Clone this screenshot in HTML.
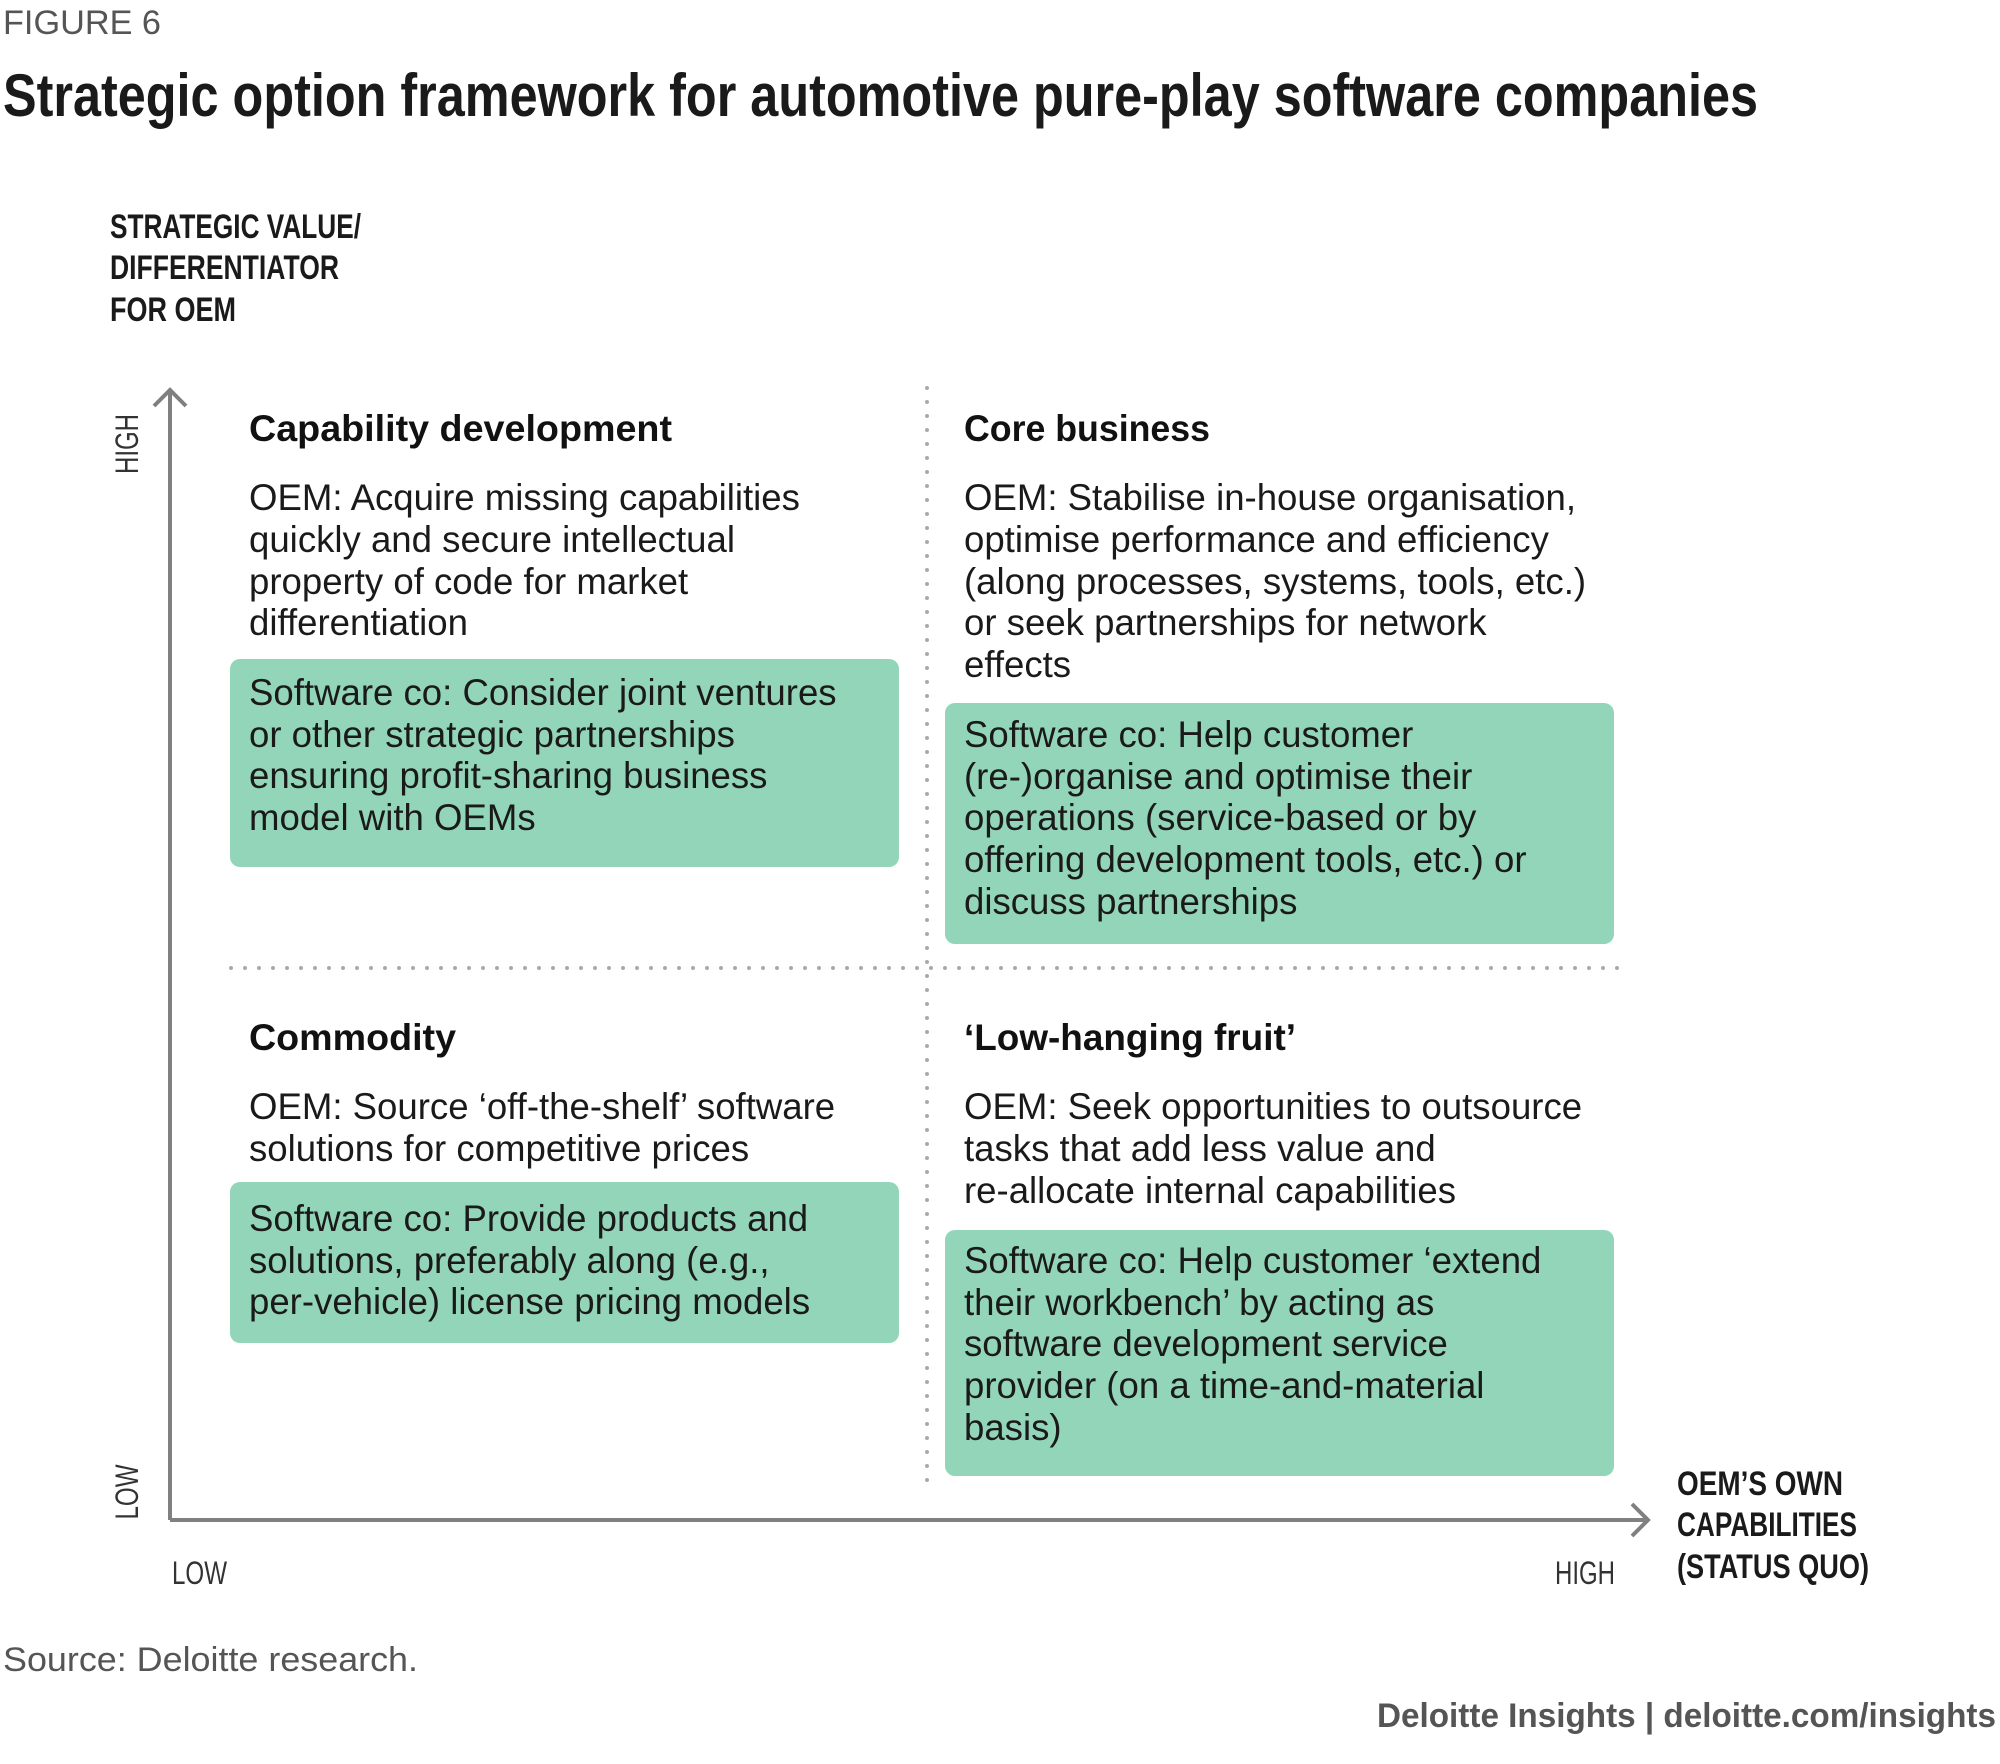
<!DOCTYPE html>
<html><head><meta charset="utf-8"><style>
html,body{margin:0;padding:0;background:#fff}
svg{display:block}
.b{font-family:"Liberation Sans",sans-serif;font-size:36.6px;fill:#1a1a1a}
.h{font-family:"Liberation Sans",sans-serif;font-size:37px;font-weight:bold;fill:#111}
.ax{font-family:"Liberation Sans",sans-serif;font-size:34px;font-weight:bold;fill:#1a1a1a}
.lo{font-family:"Liberation Sans",sans-serif;font-size:32px;fill:#333}
</style></head><body>
<svg width="2000" height="1764" viewBox="0 0 2000 1764" xmlns="http://www.w3.org/2000/svg">
<text x="3" y="34" font-family="Liberation Sans, sans-serif" font-size="34" fill="#555" textLength="158" lengthAdjust="spacingAndGlyphs">FIGURE 6</text>
<text x="3" y="116" font-family="Liberation Sans, sans-serif" font-size="60" font-weight="bold" fill="#1a1a1a" textLength="1755" lengthAdjust="spacingAndGlyphs">Strategic option framework for automotive pure-play software companies</text>

<text class="ax" x="110" y="238" textLength="251" lengthAdjust="spacingAndGlyphs">STRATEGIC VALUE/</text>
<text class="ax" x="110" y="279" textLength="229" lengthAdjust="spacingAndGlyphs">DIFFERENTIATOR</text>
<text class="ax" x="110" y="321" textLength="126" lengthAdjust="spacingAndGlyphs">FOR OEM</text>

<line x1="927" y1="388" x2="927" y2="1490" stroke="#aaa" stroke-width="4" stroke-linecap="round" stroke-dasharray="0 14"/>
<line x1="231" y1="968" x2="1626" y2="968" stroke="#aaa" stroke-width="4" stroke-linecap="round" stroke-dasharray="0 14"/>

<g stroke="#808080" stroke-width="4" fill="none">
<line x1="170" y1="390" x2="170" y2="1520"/>
<polyline points="154,406 170,390 186,406"/>
<line x1="170" y1="1520" x2="1646" y2="1520"/>
<polyline points="1632,1504 1648,1520 1632,1536"/>
</g>
<text class="lo" transform="translate(138,444) rotate(-90)" text-anchor="middle" textLength="60" lengthAdjust="spacingAndGlyphs">HIGH</text>
<text class="lo" transform="translate(138,1492) rotate(-90)" text-anchor="middle" textLength="55" lengthAdjust="spacingAndGlyphs">LOW</text>
<text class="lo" x="172" y="1584" textLength="55" lengthAdjust="spacingAndGlyphs">LOW</text>
<text class="lo" x="1555" y="1584" textLength="60" lengthAdjust="spacingAndGlyphs">HIGH</text>
<text class="ax" x="1677" y="1495" textLength="166" lengthAdjust="spacingAndGlyphs">OEM’S OWN</text>
<text class="ax" x="1677" y="1536" textLength="180" lengthAdjust="spacingAndGlyphs">CAPABILITIES</text>
<text class="ax" x="1677" y="1578" textLength="192" lengthAdjust="spacingAndGlyphs">(STATUS QUO)</text>

<g fill="#93d5b8">
<rect x="230" y="659" width="669" height="208" rx="10"/>
<rect x="945" y="703" width="669" height="241" rx="10"/>
<rect x="230" y="1182" width="669" height="161" rx="10"/>
<rect x="945" y="1230" width="669" height="246" rx="10"/>
</g>

<text class="h" x="249" y="441" textLength="423" lengthAdjust="spacingAndGlyphs">Capability development</text>
<text class="b" x="249" y="510">OEM: Acquire missing capabilities</text>
<text class="b" x="249" y="552">quickly and secure intellectual</text>
<text class="b" x="249" y="594">property of code for market</text>
<text class="b" x="249" y="635">differentiation</text>
<text class="b" x="249" y="705">Software co: Consider joint ventures</text>
<text class="b" x="249" y="747">or other strategic partnerships</text>
<text class="b" x="249" y="788">ensuring profit-sharing business</text>
<text class="b" x="249" y="830">model with OEMs</text>

<text class="h" x="964" y="441" textLength="246" lengthAdjust="spacingAndGlyphs">Core business</text>
<text class="b" x="964" y="510">OEM: Stabilise in-house organisation,</text>
<text class="b" x="964" y="552">optimise performance and efficiency</text>
<text class="b" x="964" y="594">(along processes, systems, tools, etc.)</text>
<text class="b" x="964" y="635">or seek partnerships for network</text>
<text class="b" x="964" y="677">effects</text>
<text class="b" x="964" y="747">Software co: Help customer</text>
<text class="b" x="964" y="789">(re-)organise and optimise their</text>
<text class="b" x="964" y="830">operations (service-based or by</text>
<text class="b" x="964" y="872">offering development tools, etc.) or</text>
<text class="b" x="964" y="914">discuss partnerships</text>

<text class="h" x="249" y="1050" textLength="207" lengthAdjust="spacingAndGlyphs">Commodity</text>
<text class="b" x="249" y="1119">OEM: Source ‘off-the-shelf’ software</text>
<text class="b" x="249" y="1161">solutions for competitive prices</text>
<text class="b" x="249" y="1231">Software co: Provide products and</text>
<text class="b" x="249" y="1273">solutions, preferably along (e.g.,</text>
<text class="b" x="249" y="1314">per-vehicle) license pricing models</text>

<text class="h" x="964" y="1050" textLength="332" lengthAdjust="spacingAndGlyphs">‘Low-hanging fruit’</text>
<text class="b" x="964" y="1119">OEM: Seek opportunities to outsource</text>
<text class="b" x="964" y="1161">tasks that add less value and</text>
<text class="b" x="964" y="1203">re-allocate internal capabilities</text>
<text class="b" x="964" y="1273">Software co: Help customer ‘extend</text>
<text class="b" x="964" y="1315">their workbench’ by acting as</text>
<text class="b" x="964" y="1356">software development service</text>
<text class="b" x="964" y="1398">provider (on a time-and-material</text>
<text class="b" x="964" y="1440">basis)</text>

<text x="3" y="1671" font-family="Liberation Sans, sans-serif" font-size="34" fill="#555" textLength="415" lengthAdjust="spacingAndGlyphs">Source: Deloitte research.</text>
<text x="1996" y="1727" text-anchor="end" font-family="Liberation Sans, sans-serif" font-size="34" font-weight="bold" fill="#555" textLength="619" lengthAdjust="spacingAndGlyphs">Deloitte Insights | deloitte.com/insights</text>
</svg>
</body></html>
